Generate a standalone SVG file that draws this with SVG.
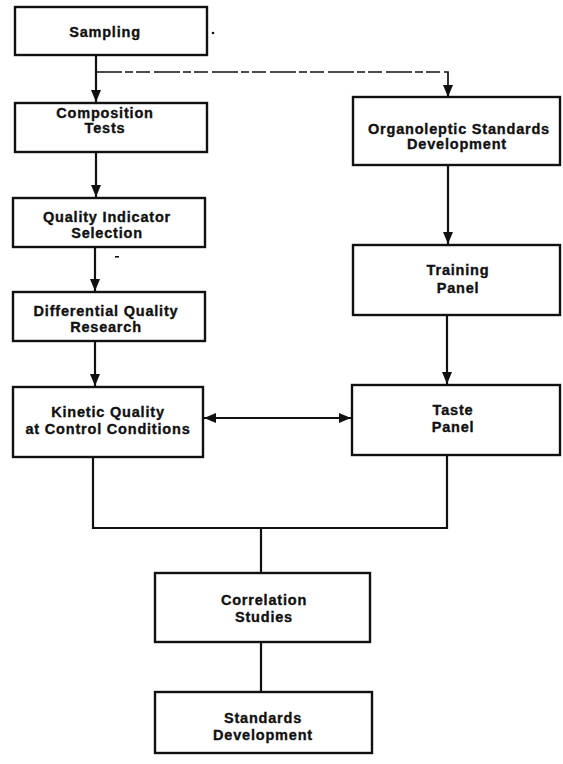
<svg xmlns="http://www.w3.org/2000/svg" width="563" height="764" viewBox="0 0 563 764">
  <style>
    .box { fill: #ffffff; stroke: #111111; stroke-width: 2.4; }
    .lbl { font-family: "Liberation Sans", Arial, Helvetica, sans-serif; font-weight: bold; font-size: 14.5px; letter-spacing: 0.8px; fill: #111111; stroke: #111111; stroke-width: 0.35; text-anchor: middle; }
    .wire { fill: none; stroke: #111111; stroke-width: 2.2; }
    .dash { fill: none; stroke: #111111; stroke-width: 1.7; stroke-dasharray: 26 3 8 3 14 4; }
  </style>
  <defs>
    <marker id="head" viewBox="0 0 12 10" refX="12" refY="5" markerWidth="12" markerHeight="10" markerUnits="userSpaceOnUse" orient="auto-start-reverse">
      <path d="M0,0 L12,5 L0,10 Z" fill="#111111"/>
    </marker>
  </defs>
  <rect width="563" height="764" fill="#ffffff"/>

  <g id="connectors">
    <path class="wire" d="M96,55 V102" marker-end="url(#head)"/>
    <path class="dash" d="M96,72 H448 V97" />
    <path class="wire" d="M448,88 V97" marker-end="url(#head)"/>
    <path class="wire" d="M96,152 V197" marker-end="url(#head)"/>
    <path class="wire" d="M95,247 V291" marker-end="url(#head)"/>
    <path class="wire" d="M95,341 V386" marker-end="url(#head)"/>
    <path class="wire" d="M448,165 V244" marker-end="url(#head)"/>
    <path class="wire" d="M447,316 V384" marker-end="url(#head)"/>
    <path class="wire" d="M204,418 H351" marker-start="url(#head)" marker-end="url(#head)"/>
    <path class="wire" d="M93,457 V528 H447 V455"/>
    <path class="wire" d="M261,528 V573"/>
    <path class="wire" d="M261,642 V692"/>
  </g>

  <g id="sampling">
    <rect class="box" x="15" y="7" width="192" height="48"/>
    <text class="lbl" x="105" y="37">Sampling</text>
  </g>
  <g id="composition-tests">
    <rect class="box" x="15" y="103" width="192" height="49"/>
    <text class="lbl" x="105" y="118">Composition</text>
    <text class="lbl" x="105" y="133">Tests</text>
  </g>
  <g id="quality-indicator-selection">
    <rect class="box" x="13" y="198" width="192" height="49"/>
    <text class="lbl" x="107" y="222">Quality Indicator</text>
    <text class="lbl" x="107" y="238">Selection</text>
  </g>
  <g id="differential-quality-research">
    <rect class="box" x="13" y="292" width="192" height="49"/>
    <text class="lbl" x="106" y="316">Differential Quality</text>
    <text class="lbl" x="106" y="332">Research</text>
  </g>
  <g id="kinetic-quality">
    <rect class="box" x="13" y="387" width="190" height="70"/>
    <text class="lbl" x="108" y="417">Kinetic Quality</text>
    <text class="lbl" x="108" y="434">at Control Conditions</text>
  </g>
  <g id="organoleptic-standards">
    <rect class="box" x="353" y="97" width="207" height="68"/>
    <text class="lbl" x="459" y="134">Organoleptic Standards</text>
    <text class="lbl" x="457" y="149">Development</text>
  </g>
  <g id="training-panel">
    <rect class="box" x="353" y="245" width="207" height="70"/>
    <text class="lbl" x="458" y="275">Training</text>
    <text class="lbl" x="458" y="293">Panel</text>
  </g>
  <g id="taste-panel">
    <rect class="box" x="352" y="385" width="208" height="70"/>
    <text class="lbl" x="453" y="415">Taste</text>
    <text class="lbl" x="453" y="432">Panel</text>
  </g>
  <g id="correlation-studies">
    <rect class="box" x="155" y="573" width="215" height="69"/>
    <text class="lbl" x="264" y="605">Correlation</text>
    <text class="lbl" x="264" y="622">Studies</text>
  </g>
  <g id="standards-development">
    <rect class="box" x="155" y="692" width="217" height="61"/>
    <text class="lbl" x="263" y="723">Standards</text>
    <text class="lbl" x="263" y="740">Development</text>
  </g>

  <!-- stray specks -->
  <circle cx="213" cy="33" r="1.3" fill="#111111"/>
  <rect x="115" y="256" width="4" height="1.6" fill="#111111"/>
</svg>
